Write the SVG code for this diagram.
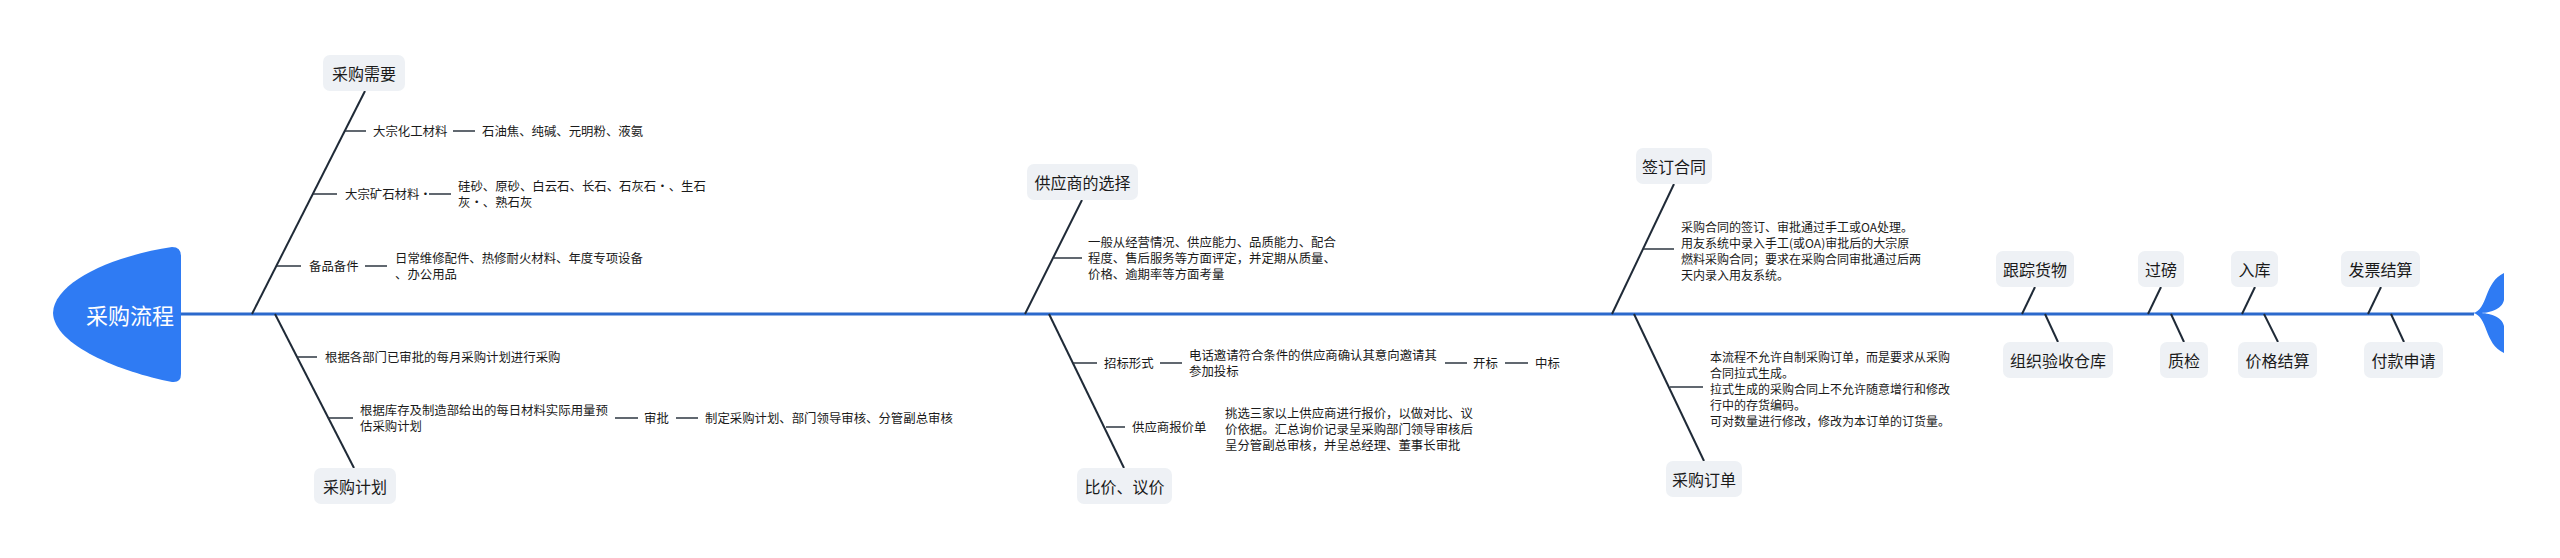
<svg xmlns="http://www.w3.org/2000/svg" width="2560" height="558" viewBox="0 0 2560 558">
<style>
text{font-family:"Noto Sans CJK SC","Noto Sans",sans-serif;fill:#1a1a1a;}
.t{font-size:16px;text-anchor:middle;dominant-baseline:central;}
.s{font-size:12.4px;dominant-baseline:central;}
.s2{font-size:12px;dominant-baseline:central;}
.box{fill:#eef1f5;}
.bone{stroke:#1f2a37;stroke-width:2;fill:none;}
.tick{stroke:#2d3640;stroke-width:1.5;fill:none;}
.spine{stroke:#2b69cc;stroke-width:3;fill:none;}
.blue{fill:#2f7bf3;}
</style>
<g id="connectors">
<line class="spine" x1="181" y1="314" x2="2474" y2="314"/>
<line class="bone" x1="252" y1="314" x2="365" y2="91"/>
<line class="bone" x1="275" y1="314" x2="354" y2="468"/>
<line class="bone" x1="1025" y1="314" x2="1082" y2="200"/>
<line class="bone" x1="1049" y1="314" x2="1124" y2="468"/>
<line class="bone" x1="1612" y1="314" x2="1674" y2="184"/>
<line class="bone" x1="1634" y1="314" x2="1704" y2="461"/>
<line class="bone" x1="2022" y1="314" x2="2035" y2="287"/>
<line class="bone" x1="2148" y1="314" x2="2161" y2="287"/>
<line class="bone" x1="2242" y1="314" x2="2255" y2="287"/>
<line class="bone" x1="2368" y1="314" x2="2381" y2="287"/>
<line class="bone" x1="2045" y1="314" x2="2058" y2="342"/>
<line class="bone" x1="2171" y1="314" x2="2184" y2="342"/>
<line class="bone" x1="2264" y1="314" x2="2278" y2="342"/>
<line class="bone" x1="2391" y1="314" x2="2404" y2="342"/>
<line class="tick" x1="345" y1="131" x2="366" y2="131"/>
<line class="tick" x1="453" y1="131" x2="475" y2="131"/>
<line class="tick" x1="313" y1="194" x2="337" y2="194"/>
<line class="tick" x1="429" y1="194" x2="451" y2="194"/>
<line class="tick" x1="277" y1="266" x2="301" y2="266"/>
<line class="tick" x1="365" y1="266" x2="387" y2="266"/>
<line class="tick" x1="297" y1="357" x2="317" y2="357"/>
<line class="tick" x1="328" y1="418" x2="353" y2="418"/>
<line class="tick" x1="615" y1="418" x2="638" y2="418"/>
<line class="tick" x1="676" y1="418" x2="698" y2="418"/>
<line class="tick" x1="1054" y1="258" x2="1082" y2="258"/>
<line class="tick" x1="1073" y1="363" x2="1097" y2="363"/>
<line class="tick" x1="1160" y1="363" x2="1182" y2="363"/>
<line class="tick" x1="1445" y1="363" x2="1467" y2="363"/>
<line class="tick" x1="1505" y1="363" x2="1528" y2="363"/>
<line class="tick" x1="1106" y1="427" x2="1125" y2="427"/>
<line class="tick" x1="1643" y1="249" x2="1674" y2="249"/>
<line class="tick" x1="1670" y1="387" x2="1703" y2="387"/>
</g>
<g id="head">
<path class="blue" d="M172 247 Q181 247 181 256 L181 374 Q181 383 172 382 C120 372 54 345 53 313 C54 282 112 256 172 247 Z"/>
<text x="130" y="314" style="font-size:22px;text-anchor:middle;dominant-baseline:central;fill:#ffffff">采购流程</text>
</g>
<g id="tail">
<path class="blue" d="M2473 313 C2488 310 2484 282 2504 273 L2504 300 C2502 310 2488 313 2480 313 Z M2473 313 C2488 316 2484 344 2504 353 L2504 326 C2502 316 2488 313 2480 313 Z"/>
</g>
<g id="n-caigouxuyao">
<rect class="box" x="323" y="55" width="82" height="36" rx="7"/>
<text class="t" x="364" y="73">采购需要</text>
</g>
<g id="n-dazonghuagong">
<text class="s" x="373" y="131">大宗化工材料</text>
<text class="s" x="482" y="131">石油焦、纯碱、元明粉、液氨</text>
</g>
<g id="n-dazongkuangshi">
<text class="s" x="345" y="194">大宗矿石材料·</text>
<text class="s" x="458" y="186">硅砂、原砂、白云石、长石、石灰石·、生石</text>
<text class="s" x="458" y="202">灰·、熟石灰</text>
</g>
<g id="n-beipin">
<text class="s" x="309" y="266">备品备件</text>
<text class="s" x="395" y="258">日常维修配件、热修耐火材料、年度专项设备</text>
<text class="s" x="395" y="274">、办公用品</text>
</g>
<g id="n-caigoujihua">
<rect class="box" x="314" y="468" width="82" height="36" rx="7"/>
<text class="t" x="355" y="486">采购计划</text>
</g>
<g id="n-jihua1">
<text class="s" x="325" y="357">根据各部门已审批的每月采购计划进行采购</text>
</g>
<g id="n-jihua2">
<text class="s" x="360" y="410">根据库存及制造部给出的每日材料实际用量预</text>
<text class="s" x="360" y="426">估采购计划</text>
<text class="s" x="644" y="418">审批</text>
<text class="s" x="705" y="418">制定采购计划、部门领导审核、分管副总审核</text>
</g>
<g id="n-gongyingshang">
<rect class="box" x="1027" y="164" width="111" height="36" rx="7"/>
<text class="t" x="1082.5" y="182">供应商的选择</text>
<text class="s" x="1088" y="242">一般从经营情况、供应能力、品质能力、配合</text>
<text class="s" x="1088" y="258">程度、售后服务等方面评定，并定期从质量、</text>
<text class="s" x="1088" y="274">价格、逾期率等方面考量</text>
</g>
<g id="n-bijia">
<rect class="box" x="1077" y="468" width="95" height="36" rx="7"/>
<text class="t" x="1124.5" y="486">比价、议价</text>
</g>
<g id="n-zhaobiao">
<text class="s" x="1104" y="363">招标形式</text>
<text class="s" x="1189" y="355">电话邀请符合条件的供应商确认其意向邀请其</text>
<text class="s" x="1189" y="371">参加投标</text>
<text class="s" x="1473" y="363">开标</text>
<text class="s" x="1535" y="363">中标</text>
</g>
<g id="n-baojiadan">
<text class="s" x="1132" y="427">供应商报价单</text>
<text class="s" x="1225" y="413">挑选三家以上供应商进行报价，以做对比、议</text>
<text class="s" x="1225" y="429">价依据。汇总询价记录呈采购部门领导审核后</text>
<text class="s" x="1225" y="445">呈分管副总审核，并呈总经理、董事长审批</text>
</g>
<g id="n-qianding">
<rect class="box" x="1636" y="148" width="76" height="36" rx="7"/>
<text class="t" x="1674" y="166">签订合同</text>
<text class="s2" x="1681" y="226">采购合同的签订、审批通过手工或OA处理。</text>
<text class="s2" x="1681" y="242">用友系统中录入手工(或OA)审批后的大宗原</text>
<text class="s2" x="1681" y="258">燃料采购合同；要求在采购合同审批通过后两</text>
<text class="s2" x="1681" y="274">天内录入用友系统。</text>
</g>
<g id="n-dingdan">
<rect class="box" x="1666" y="461" width="76" height="36" rx="7"/>
<text class="t" x="1704" y="479">采购订单</text>
<text class="s2" x="1710" y="356.5">本流程不允许自制采购订单，而是要求从采购</text>
<text class="s2" x="1710" y="372.5">合同拉式生成。</text>
<text class="s2" x="1710" y="388.5">拉式生成的采购合同上不允许随意增行和修改</text>
<text class="s2" x="1710" y="404.5">行中的存货编码。</text>
<text class="s2" x="1710" y="420.5">可对数量进行修改，修改为本订单的订货量。</text>
</g>
<g id="n-genzong">
<rect class="box" x="1996" y="251" width="78" height="36" rx="7"/>
<text class="t" x="2035" y="269">跟踪货物</text>
</g>
<g id="n-guobang">
<rect class="box" x="2138" y="251" width="46" height="36" rx="7"/>
<text class="t" x="2161" y="269">过磅</text>
</g>
<g id="n-ruku">
<rect class="box" x="2231" y="251" width="47" height="36" rx="7"/>
<text class="t" x="2254.5" y="269">入库</text>
</g>
<g id="n-fapiao">
<rect class="box" x="2341" y="251" width="79" height="36" rx="7"/>
<text class="t" x="2380.5" y="269">发票结算</text>
</g>
<g id="n-yanshou">
<rect class="box" x="2003" y="342" width="110" height="36" rx="7"/>
<text class="t" x="2058" y="360">组织验收仓库</text>
</g>
<g id="n-zhijian">
<rect class="box" x="2160" y="342" width="48" height="36" rx="7"/>
<text class="t" x="2184" y="360">质检</text>
</g>
<g id="n-jiage">
<rect class="box" x="2238" y="342" width="79" height="36" rx="7"/>
<text class="t" x="2277.5" y="360">价格结算</text>
</g>
<g id="n-fukuan">
<rect class="box" x="2364" y="342" width="79" height="36" rx="7"/>
<text class="t" x="2403.5" y="360">付款申请</text>
</g>
</svg>
